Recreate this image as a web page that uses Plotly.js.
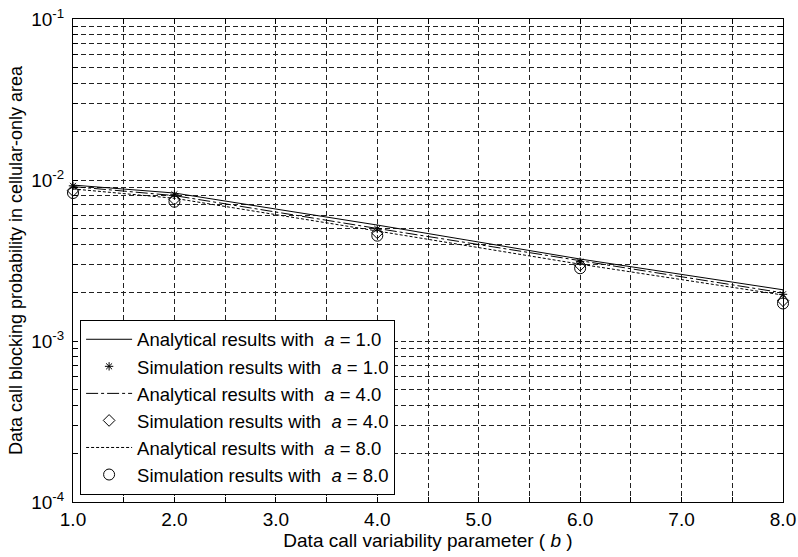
<!DOCTYPE html>
<html><head><meta charset="utf-8">
<script src="https://cdn.plot.ly/plotly-3.0.1.min.js"></script>
<style>body{margin:0;background:#fff}#c{width:798px;height:557px}</style>
</head><body><div id="c"></div>
<script>
const bVals = [1.0, 2.0, 4.0, 6.0, 8.0];
const anaA1 = [0.0093, 0.0083, 0.00525, 0.00323, 0.00208];
const anaA4 = [0.0091, 0.0080, 0.0050, 0.00314, 0.00199];
const anaA8 = [0.0088, 0.0077, 0.00482, 0.00300, 0.00193];
const simA1 = [0.0092, 0.00815, 0.00497, 0.00311, 0.00195];
const simA4 = [0.0086, 0.0076, 0.00470, 0.00296, 0.00178];
const simA8 = [0.0083, 0.00733, 0.00451, 0.00283, 0.00171];
const legendNames = [
  'Analytical results with  <i>a</i> = 1.0',
  'Simulation results with  <i>a</i> = 1.0',
  'Analytical results with  <i>a</i> = 4.0',
  'Simulation results with  <i>a</i> = 4.0',
  'Analytical results with  <i>a</i> = 8.0',
  'Simulation results with  <i>a</i> = 8.0'
];
const xTickVals = [1,1.5,2,2.5,3,3.5,4,4.5,5,5.5,6,6.5,7,7.5,8];
const xTickText = xTickVals.map(v => Number.isInteger(v) ? v.toFixed(1) : '');
const yTickVals = [];
const yTickText = [];
[-4,-3,-2].forEach(e => { for (let m = 1; m <= 9; m++) { yTickVals.push(m*Math.pow(10,e)); yTickText.push(m===1 ? '10<sup>'+e+'</sup>' : ''); } });
yTickVals.push(0.1); yTickText.push('10<sup>-1</sup>');

const F = 'Arial, "Liberation Sans", sans-serif';
const traces = [
  {x:bVals, y:anaA1, name:legendNames[0], mode:'lines', line:{color:'#000', width:1, dash:'solid'}},
  {x:bVals, y:simA1, name:legendNames[1], mode:'markers', marker:{symbol:'asterisk-open', size:7, color:'#000', line:{color:'#000', width:1}}},
  {x:bVals, y:anaA4, name:legendNames[2], mode:'lines', line:{color:'#000', width:1, dash:'12px,3px,3px,3px'}},
  {x:bVals, y:simA4, name:legendNames[3], mode:'markers', marker:{symbol:'diamond-open', size:9, color:'#000', line:{color:'#000', width:1}}},
  {x:bVals, y:anaA8, name:legendNames[4], mode:'lines', line:{color:'#000', width:1, dash:'3px,2px'}},
  {x:bVals, y:simA8, name:legendNames[5], mode:'markers', marker:{symbol:'circle-open', size:11, color:'#000', line:{color:'#000', width:1}}}
].map(t => Object.assign(t, {cliponaxis:false}));

const layout = {
  width:798, height:557,
  margin:{l:73, r:15, t:19, b:55},
  paper_bgcolor:'#fff', plot_bgcolor:'#fff',
  font:{family:F, size:17, color:'#000'},
  showlegend:true,
  legend:{x:0.01, y:0.015, xanchor:'left', yanchor:'bottom', bgcolor:'#fff', bordercolor:'#000', borderwidth:1,
          font:{family:F, size:18.5, color:'#000'}, tracegroupgap:0, itemwidth:46},
  xaxis:{range:[1,8], tickmode:'array', tickvals:xTickVals, ticktext:xTickText,
         ticks:'inside', ticklen:5, tickcolor:'#000', showline:true, linecolor:'#000', linewidth:1, mirror:'ticks',
         showgrid:true, gridcolor:'#222', griddash:'5px,3px', gridwidth:1, zeroline:false,
         tickfont:{family:F, size:19},
         title:{text:'Data call variability parameter ( <i>b</i> )', font:{family:F, size:19}, standoff:2}},
  yaxis:{type:'log', range:[-4,-1], tickmode:'array', tickvals:yTickVals, ticktext:yTickText,
         ticks:'inside', ticklen:5, tickcolor:'#000', showline:true, linecolor:'#000', linewidth:1, mirror:'ticks',
         showgrid:true, gridcolor:'#222', griddash:'5px,3px', gridwidth:1, zeroline:false,
         tickfont:{family:F, size:19}, ticklabelstandoff:4,
         title:{text:'Data call blocking probability in cellular-only area', font:{family:F, size:18}, standoff:3}}
};
Plotly.newPlot('c', traces, layout, {displayModeBar:false, staticPlot:true});
</script></body></html>
